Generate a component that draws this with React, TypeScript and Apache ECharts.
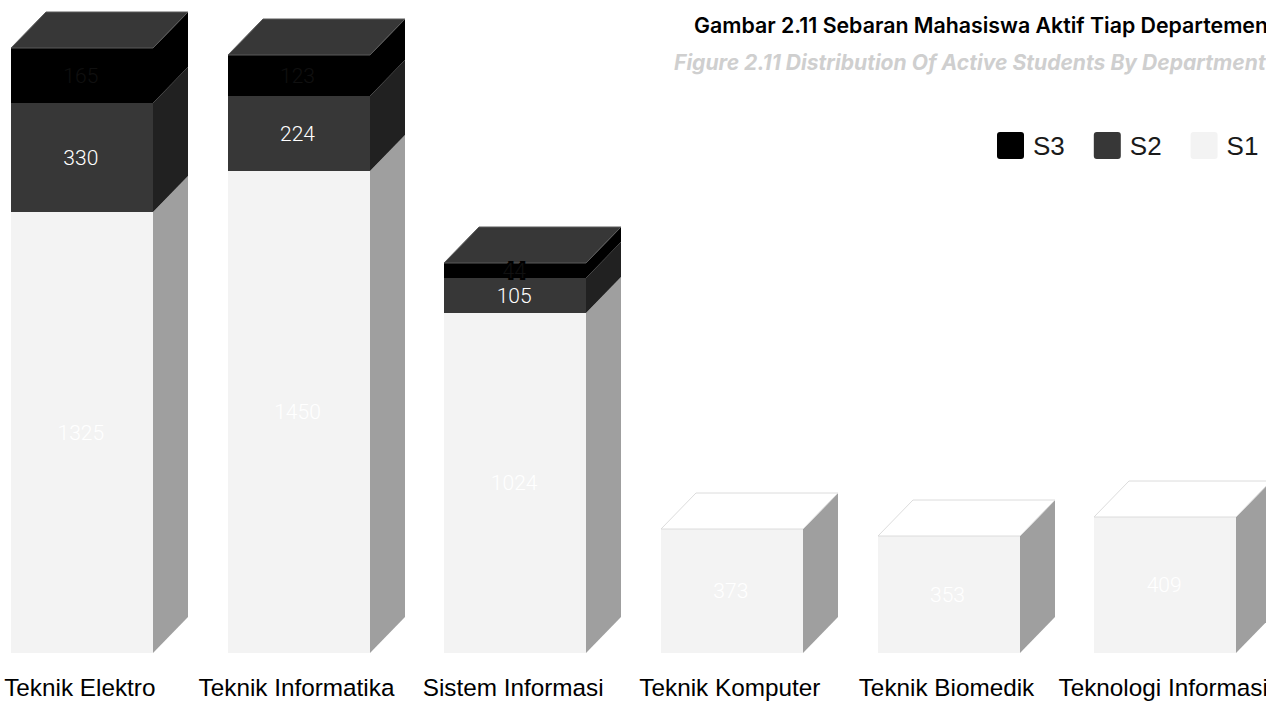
import React, { useEffect, useRef } from "react";
import * as echarts from "echarts";

const categories = ["Teknik Elektro", "Teknik Informatika", "Sistem Informasi", "Teknik Komputer", "Teknik Biomedik", "Teknologi Informasi"];
const s1Values = [1325, 1450, 1024, 373, 353, 409];
const s2Values: (number | null)[] = [330, 224, 105, null, null, null];
const s3Values: (number | null)[] = [165, 123, 44, null, null, null];

const BAR_W = 142;
const DX = 35;
const DY = 36;

const styles: Record<string, any> = {
  S1: { front: "#f3f3f3", side: "#9f9f9f", top: "#ffffff", edge: "#dcdcdc", label: "#ffffff" },
  S2: { front: "#373737", side: "#212121", top: "#373737", edge: "#5a5a5a", label: "#ffffff" },
  S3: { front: "#000000", side: "#000000", top: "#373737", edge: "#5a5a5a", label: "#101010", stroke: "#000000" },
};

function buildRows(values: (number | null)[], below: (number | null)[][]) {
  return values
    .map((v, i) => {
      if (v == null) return null;
      const base = below.reduce((sum, arr) => sum + (arr[i] ?? 0), 0);
      return [i, base, base + v, v];
    })
    .filter(Boolean) as number[][];
}

function boxSeries(name: string, rows: number[][], isTop: (i: number) => boolean) {
  const st = styles[name];
  return {
    type: "custom",
    name,
    data: rows,
    encode: { x: 0, y: [1, 2] },
    itemStyle: { color: st.front },
    clip: false,
    silent: true,
    renderItem: (_: any, api: any) => {
      const cat = api.value(0);
      const [cx, yBase] = api.coord([cat, api.value(1)]);
      const [, yTop] = api.coord([cat, api.value(2)]);
      const y0 = Math.round(yBase);
      const y1 = Math.round(yTop);
      const l = Math.round(cx - BAR_W / 2);
      const r = l + BAR_W;
      const children: any[] = [
        { type: "polygon", shape: { points: [[r, y0], [r + DX, y0 - DY], [r + DX, y1 - DY], [r, y1]] }, style: { fill: st.side } },
        { type: "polygon", shape: { points: [[l, y0], [r, y0], [r, y1], [l, y1]] }, style: { fill: st.front } },
      ];
      if (isTop(cat)) {
        children.push({
          type: "polygon",
          shape: { points: [[l, y1], [l + DX, y1 - DY], [r + DX, y1 - DY], [r, y1]] },
          style: { fill: st.top, stroke: st.edge, lineWidth: 1 },
        });
      }
      children.push({
        type: "text",
        x: cx - 1,
        y: (y0 + y1) / 2,
        style: {
          text: String(api.value(3)),
          fill: st.label,
          stroke: st.stroke,
          lineWidth: st.stroke ? 4 : 0,
          font: "300 21px Roboto",
          align: "center",
          verticalAlign: "middle",
        },
      });
      return { type: "group", children };
    },
  };
}

const swatch = "path://M3,0 H24 A3,3 0 0 1 27,3 V24 A3,3 0 0 1 24,27 H3 A3,3 0 0 1 0,24 V3 A3,3 0 0 1 3,0 Z";

export default function App() {
  const ref = useRef<HTMLDivElement>(null);
  useEffect(() => {
    const chart = echarts.init(ref.current!, undefined, { renderer: "svg" });
    const s1Rows = buildRows(s1Values, []);
    const s2Rows = buildRows(s2Values, [s1Values]);
    const s3Rows = buildRows(s3Values, [s1Values, s2Values]);
    chart.setOption({
      animation: false,
      backgroundColor: "#ffffff",
      title: [
        { text: "Gambar 2.11 Sebaran Mahasiswa Aktif Tiap Departemen", left: 694, top: 14, padding: 0, textStyle: { fontFamily: "Inter", fontWeight: 600, fontSize: 21.33, color: "#000000" } },
        { text: "Figure 2.11 Distribution Of Active Students By Department", left: 674, top: 52, padding: 0, textStyle: { fontFamily: "Inter", fontWeight: 700, fontStyle: "italic", fontSize: 21.1, color: "#cfcfcf" } },
      ],
      legend: {
        left: 997,
        top: 132,
        padding: 0,
        itemWidth: 27,
        itemHeight: 27,
        itemGap: 29,
        icon: swatch,
        selectedMode: false,
        data: ["S3", "S2", "S1"],
        textStyle: { fontFamily: "Liberation Sans", fontSize: 26, color: "#1a1a1a", padding: [2, 0, 0, 4] },
      },
      grid: { left: -26.5, width: 1300, top: 54.5, height: 598.5, outerBoundsMode: "none" },
      xAxis: {
        type: "category",
        data: categories,
        axisLine: { show: false },
        axisTick: { show: false },
        axisLabel: { interval: 0, margin: 22, padding: [0, 4, 0, 0], fontFamily: "Liberation Sans", fontSize: 24.3, color: "#000000" },
      },
      yAxis: { type: "value", min: 0, max: 1800, show: false, splitLine: { show: false } },
      series: [
        boxSeries("S1", s1Rows, (i) => s2Values[i] == null && s3Values[i] == null),
        boxSeries("S2", s2Rows, (i) => s3Values[i] == null),
        boxSeries("S3", s3Rows, () => true),
      ],
    });
    return () => chart.dispose();
  }, []);
  return <div ref={ref} style={{ position: "fixed", left: 0, top: 0, width: 1266, height: 702 }} />;
}
